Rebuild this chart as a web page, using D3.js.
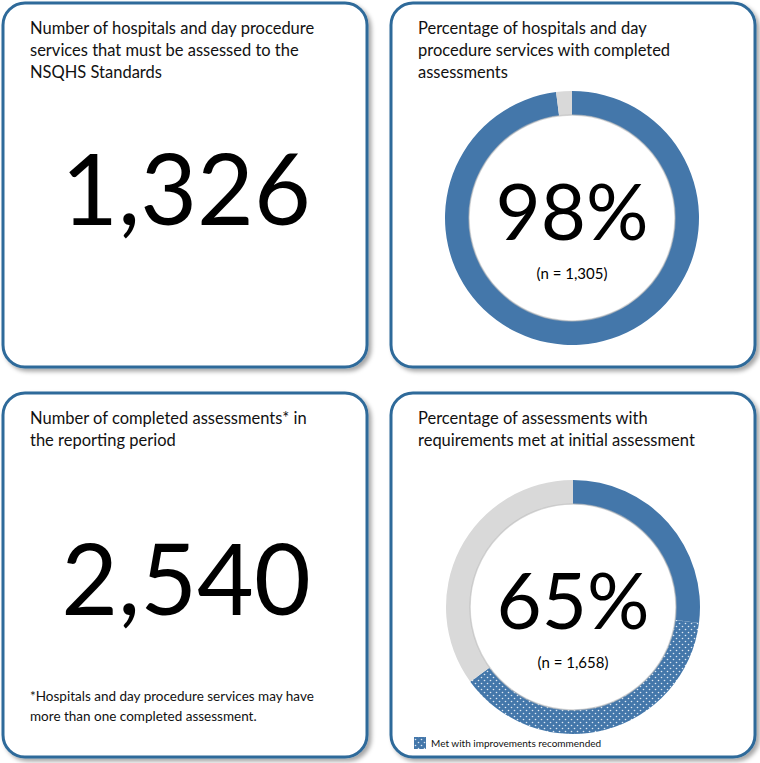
<!DOCTYPE html>
<html><head><meta charset="utf-8">
<script src="https://cdn.jsdelivr.net/npm/d3@7"></script>
<style>body{margin:0;background:#fff}text{font-family:Lato,"Open Sans",sans-serif}</style>
</head><body>
<svg id="chart" width="760" height="763"></svg>
<script>
// panel titles and headline numbers
const titles = [
  ["Number of hospitals and day procedure", "services that must be assessed to the", "NSQHS Standards"],
  ["Percentage of hospitals and day", "procedure services with completed", "assessments"],
  ["Number of completed assessments* in", "the reporting period"],
  ["Percentage of assessments with", "requirements met at initial assessment"]
];
const bigNumbers = ["1,326", "98%", "2,540", "65%"];
const nLabels = [null, "(n = 1,305)", null, "(n = 1,658)"];

// donut segments (percent)
const donut1 = [{k: "completed", v: 98}, {k: "rest", v: 2}];
const donut2 = [{k: "met", v: 27}, {k: "improve", v: 38}, {k: "rest", v: 35}];

const svg = d3.select("#chart");
const defs = svg.append("defs");
const pat = defs.append("pattern").attr("id", "dots").attr("width", 6).attr("height", 6)
  .attr("patternUnits", "userSpaceOnUse");
pat.append("rect").attr("width", 6).attr("height", 6).attr("fill", "#4477aa");
pat.append("circle").attr("cx", 1.5).attr("cy", 1.5).attr("r", 0.8).attr("fill", "#dfe8f2");
pat.append("circle").attr("cx", 4.5).attr("cy", 4.5).attr("r", 0.8).attr("fill", "#dfe8f2");
const sh = defs.append("filter").attr("id", "shadow").attr("x", "-10%").attr("y", "-10%").attr("width", "130%").attr("height", "130%");
sh.append("feDropShadow").attr("dx", 3).attr("dy", 3).attr("stdDeviation", 2).attr("flood-color", "#000").attr("flood-opacity", 0.35);

const panels = [[3, 3], [391, 3], [3, 393], [391, 393]];
const pw = 364, ph = 364;

panels.forEach((p, i) => {
  const g = svg.append("g").attr("transform", `translate(${p[0]},${p[1]})`);
  g.append("rect").attr("width", pw).attr("height", ph).attr("rx", 22)
    .attr("fill", "#fff").attr("stroke", "#2f6a9a").attr("stroke-width", 3).attr("filter", "url(#shadow)");
  g.append("text").attr("x", 27).attr("y", 31).attr("font-size", 16.5).attr("fill", "#111")
    .selectAll("tspan").data(titles[i]).join("tspan")
    .attr("x", 27).attr("dy", (d, j) => j ? 22 : 0).text(d => d);
});

// big numbers in left panels
[0, 2].forEach(i => {
  svg.append("text").attr("x", panels[i][0] + 183).attr("y", panels[i][1] + (i ? 222 : 222))
    .attr("text-anchor", "middle").attr("font-size", 98).attr("fill", "#000").text(bigNumbers[i]);
});
svg.append("text").attr("x", 30).attr("y", 701).attr("font-size", 13.5).attr("fill", "#111")
  .selectAll("tspan").data(["*Hospitals and day procedure services may have", "more than one completed assessment."]).join("tspan")
  .attr("x", 30).attr("dy", (d, j) => j ? 20 : 0).text(d => d);

const pie = d3.pie().sort(null).value(d => d.v);
const arc = d3.arc().innerRadius(103).outerRadius(127);
const fills = {completed: "#4477aa", met: "#4477aa", improve: "url(#dots)", rest: "#d9d9d9"};

function donut(data, cx, cy, idx) {
  const g = svg.append("g").attr("transform", `translate(${cx},${cy})`);
  g.selectAll("path").data(pie(data)).join("path").attr("d", arc).attr("fill", d => fills[d.data.k]);
  g.append("circle").attr("r", 103).attr("fill", "none").attr("stroke", "#bbb").attr("stroke-width", 1.5).attr("opacity", 0.6);
  g.append("text").attr("y", 22).attr("text-anchor", "middle").attr("font-size", 78).attr("fill", "#000").text(bigNumbers[idx]);
  g.append("text").attr("y", 61).attr("text-anchor", "middle").attr("font-size", 15).attr("fill", "#000").text(nLabels[idx]);
}
donut(donut1, 572, 218, 1);
donut(donut2, 573, 607, 3);

// legend
svg.append("rect").attr("x", 414).attr("y", 737).attr("width", 12).attr("height", 12).attr("fill", "url(#dots)");
svg.append("text").attr("x", 431).attr("y", 747).attr("font-size", 10).attr("fill", "#111").text("Met with improvements recommended");
</script>
</body></html>
